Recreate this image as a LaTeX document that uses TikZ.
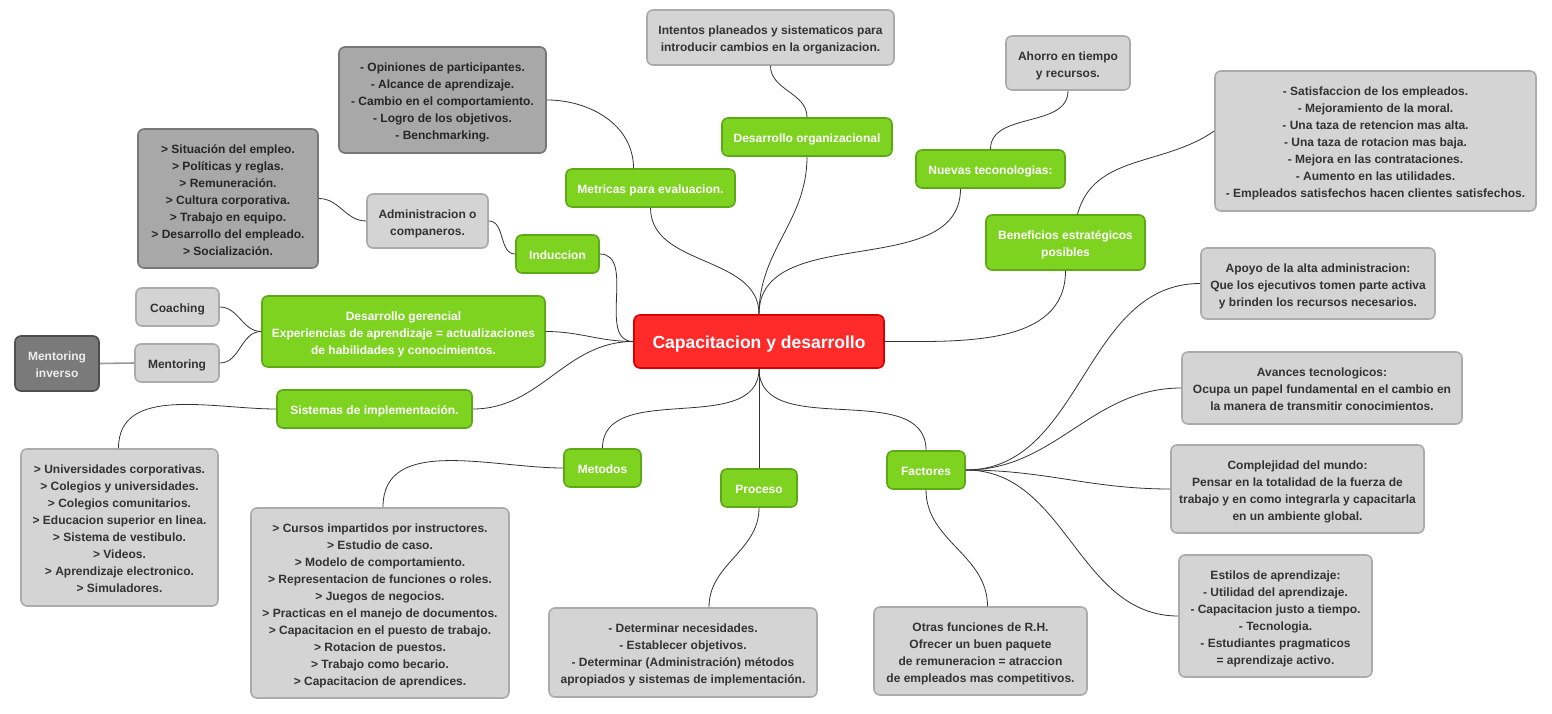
\documentclass[tikz,border=0pt]{standalone}
\usepackage{fontspec}
\setmainfont{Liberation Sans}
\definecolor{gfill}{HTML}{7ED321}
\definecolor{gdraw}{HTML}{5CA815}
\definecolor{rfill}{HTML}{FF2A2A}
\definecolor{rdraw}{HTML}{D90000}
\definecolor{lfill}{HTML}{D4D4D4}
\definecolor{ldraw}{HTML}{ABABAB}
\definecolor{mfill}{HTML}{A8A8A8}
\definecolor{mdraw}{HTML}{777777}
\definecolor{dfill}{HTML}{7A7A7A}
\definecolor{ddraw}{HTML}{4E4E4E}
\definecolor{ltext}{HTML}{333333}
\definecolor{edgec}{HTML}{333333}
\newcommand\topstr{\rule{0pt}{15.5pt}}
\newcommand\botstr{\rule[-4.3pt]{0pt}{4.3pt}}
\tikzset{
  box/.style={rectangle, rounded corners=6pt, line width=1.6pt, inner sep=0pt, align=center,
    font=\fontsize{12}{17}\selectfont\bfseries},
  rootbox/.style={box, fill=rfill, draw=rdraw, text=white, font=\fontsize{17.5}{21}\selectfont\bfseries},
  greenbox/.style={box, fill=gfill, draw=gdraw, text=white},
  lightbox/.style={box, fill=lfill, draw=ldraw, text=ltext},
  midbox/.style={box, fill=mfill, draw=mdraw, text=black!85},
  darkbox/.style={box, fill=dfill, draw=ddraw, text=white!93!black},
  conn/.style={draw=edgec, line width=0.8pt},
  straightconn/.style={draw=black!40, line width=1.6pt},
}
\begin{document}
\begin{tikzpicture}[x=1pt,y=-1pt]
\useasboundingbox[fill=white] (0,0) rectangle (1552,714);

% root
\node[rootbox, minimum width=250pt, minimum height=53pt] (root) at (759,341.5) {\rule{0pt}{17pt}Capacitacion y desarrollo\rule[-4pt]{0pt}{4pt}};

% green nodes
\node[greenbox, minimum width=170pt, minimum height=38pt] (dorg) at (807,137) {\topstr Desarrollo organizacional\botstr};
\node[greenbox, minimum width=169pt, minimum height=38pt] (metr) at (650.5,188) {\topstr Metricas para evaluacion.\botstr};
\node[greenbox, minimum width=149pt, minimum height=38pt] (nuev) at (990.5,169) {\topstr Nuevas teconologias:\botstr};
\node[greenbox, minimum width=159pt, minimum height=55pt] (bene) at (1065.5,242.5) {\topstr Beneficios estratégicos\\posibles\botstr};
\node[greenbox, minimum width=83pt, minimum height=38pt] (ind) at (557.5,254) {\topstr Induccion\botstr};
\node[greenbox, minimum width=283pt, minimum height=71pt] (dger) at (403.5,331.5) {\topstr Desarrollo gerencial\\Experiencias de aprendizaje = actualizaciones\\de habilidades y conocimientos.\botstr};
\node[greenbox, minimum width=195pt, minimum height=38pt] (sist) at (374.5,409) {\topstr Sistemas de implementación.\botstr};
\node[greenbox, minimum width=77pt, minimum height=38pt] (met) at (602.5,468) {\topstr Metodos\botstr};
\node[greenbox, minimum width=76pt, minimum height=38pt] (proc) at (759,488) {\topstr Proceso\botstr};
\node[greenbox, minimum width=78pt, minimum height=38pt] (fact) at (926,470) {\topstr Factores\botstr};

% light gray nodes
\node[lightbox, minimum width=247pt, minimum height=55pt] (intent) at (770.5,37.5) {\topstr Intentos planeados y sistematicos para\\introducir cambios en la organizacion.\botstr};
\node[lightbox, minimum width=124pt, minimum height=54pt] (ahorro) at (1068,63) {\topstr Ahorro en tiempo\\y recursos.\botstr};
\node[lightbox, minimum width=321pt, minimum height=140pt] (benlist) at (1375.5,141) {\topstr - Satisfaccion de los empleados.\\- Mejoramiento de la moral.\\- Una taza de retencion mas alta.\\- Una taza de rotacion mas baja.\\- Mejora en las contrataciones.\\- Aumento en las utilidades.\\- Empleados satisfechos hacen clientes satisfechos.\botstr};
\node[lightbox, minimum width=121pt, minimum height=54pt] (admin) at (427.5,221) {\topstr Administracion o\\companeros.\botstr};
\node[lightbox, minimum width=83pt, minimum height=38pt] (coach) at (177.5,307) {\topstr Coaching\botstr};
\node[lightbox, minimum width=84pt, minimum height=38pt] (ment) at (177,363) {\topstr Mentoring\botstr};
\node[lightbox, minimum width=197pt, minimum height=157pt] (univ) at (119.5,527.5) {\topstr > Universidades corporativas.\\> Colegios y universidades.\\> Colegios comunitarios.\\> Educacion superior en linea.\\> Sistema de vestibulo.\\> Videos.\\> Aprendizaje electronico.\\> Simuladores.\botstr};
\node[lightbox, minimum width=258pt, minimum height=190pt] (cursos) at (380,603) {\topstr > Cursos impartidos por instructores.\\> Estudio de caso.\\> Modelo de comportamiento.\\> Representacion de funciones o roles.\\> Juegos de negocios.\\> Practicas en el manejo de documentos.\\> Capacitacion en el puesto de trabajo.\\> Rotacion de puestos.\\> Trabajo como becario.\\> Capacitacion de aprendices.\botstr};
\node[lightbox, minimum width=268pt, minimum height=89pt] (proclist) at (683,652.5) {\topstr - Determinar necesidades.\\- Establecer objetivos.\\- Determinar (Administración) métodos\\apropiados y sistemas de implementación.\botstr};
\node[lightbox, minimum width=213pt, minimum height=88pt] (otras) at (980.5,651) {\topstr Otras funciones de R.H.\\Ofrecer un buen paquete\\de remuneracion = atraccion\\de empleados mas competitivos.\botstr};
\node[lightbox, minimum width=234pt, minimum height=71pt] (apoyo) at (1318,283.5) {\topstr Apoyo de la alta administracion:\\Que los ejecutivos tomen parte activa\\y brinden los recursos necesarios.\botstr};
\node[lightbox, minimum width=280pt, minimum height=72pt] (avances) at (1322,388) {\topstr Avances tecnologicos:\\Ocupa un papel fundamental en el cambio en\\la manera de transmitir conocimientos.\botstr};
\node[lightbox, minimum width=253pt, minimum height=88pt] (compl) at (1297.5,489) {\topstr Complejidad del mundo:\\Pensar en la totalidad de la fuerza de\\trabajo y en como integrarla y capacitarla\\en un ambiente global.\botstr};
\node[lightbox, minimum width=193pt, minimum height=122pt] (estilos) at (1275.5,616) {\topstr Estilos de aprendizaje:\\- Utilidad del aprendizaje.\\- Capacitacion justo a tiempo.\\- Tecnologia.\\- Estudiantes pragmaticos\\= aprendizaje activo.\botstr};

% mid gray nodes
\node[midbox, minimum width=207pt, minimum height=106pt] (opin) at (442.5,100) {\topstr - Opiniones de participantes.\\- Alcance de aprendizaje.\\- Cambio en el comportamiento.\\- Logro de los objetivos.\\- Benchmarking.\botstr};
\node[midbox, minimum width=180pt, minimum height=139pt] (sit) at (228,198.5) {\topstr > Situación del empleo.\\> Políticas y reglas.\\> Remuneración.\\> Cultura corporativa.\\> Trabajo en equipo.\\> Desarrollo del empleado.\\> Socialización.\botstr};

% dark gray node
\node[darkbox, minimum width=84pt, minimum height=55pt] (minv) at (57,363.5) {\topstr Mentoring\\inverso\botstr};

% connectors from root
\draw[conn] (root.north) to[out=90,in=-90] (dorg.south);
\draw[conn] (root.north) to[out=90,in=-90] (metr.south);
\draw[conn] (root.north) to[out=90,in=-90] ([xshift=-30pt]nuev.south);
\draw[conn] (root.east) to[out=0,in=-90] (bene.south);
\draw[conn] (root.west) to[out=180,in=0] (ind.east);
\draw[conn] (root.west) to[out=180,in=0] (dger.east);
\draw[conn] (root.west) to[out=180,in=0] (sist.east);
\draw[conn] (root.south) to[out=-90,in=90] (met.north);
\draw[conn] (root.south) -- (proc.north);
\draw[conn] (root.south) to[out=-90,in=90] (fact.north);

% second level
\draw[conn] (dorg.north) to[out=90,in=-90] (intent.south);
\draw[conn] ([xshift=-17pt]metr.north) to[out=90,in=0] (opin.east);
\draw[conn] (nuev.north) to[out=90,in=-90] (ahorro.south);
\draw[conn] ([xshift=12pt]bene.north) to[out=75,in=215] ([yshift=10pt]benlist.west);
\draw[conn] (ind.west) to[out=180,in=0] (admin.east);
\draw[conn] (admin.west) to[out=180,in=0] (sit.east);
\draw[conn] (dger.west) to[out=180,in=0] (coach.east);
\draw[conn] (dger.west) to[out=180,in=0] (ment.east);
\draw[straightconn] (ment.west) -- (minv.east);
\draw[conn] (sist.west) to[out=180,in=90] ([xshift=-1pt]univ.north);
\draw[conn] (met.west) to[out=180,in=90] ([xshift=3pt]cursos.north);
\draw[conn] (proc.south) to[out=-90,in=90] ([xshift=26pt]proclist.north);
\draw[conn] (fact.south) to[out=-90,in=90] ([xshift=7pt]otras.north);
\draw[conn] (fact.east) to[out=0,in=180] (apoyo.west);
\draw[conn] (fact.east) to[out=0,in=180] (avances.west);
\draw[conn] (fact.east) to[out=0,in=180] (compl.west);
\draw[conn] (fact.east) to[out=0,in=180] (estilos.west);
\end{tikzpicture}
\end{document}
